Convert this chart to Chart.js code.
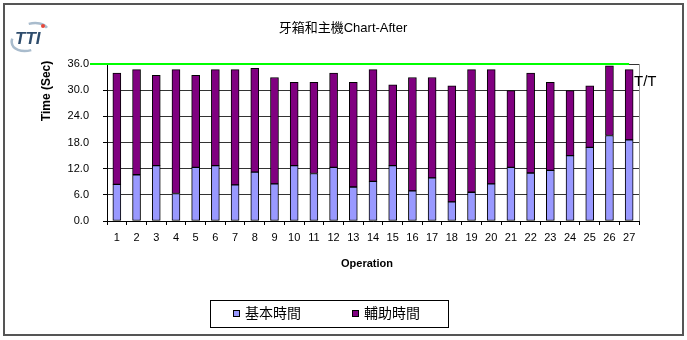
<!DOCTYPE html>
<html lang="zh-Hant">
<head>
  <meta charset="UTF-8">
  <title>牙箱和主機Chart-After</title>
  <style>
    body { margin: 0; background: #fff; }
    #wrap { width: 687px; height: 340px; position: relative; }
  </style>
</head>
<body>
  <div id="wrap"><canvas id="chart" width="687" height="340"></canvas></div>

  <script src="https://cdn.jsdelivr.net/npm/chart.js"></script>
  <script>
    const operations = ['1','2','3','4','5','6','7','8','9','10','11','12','13','14','15','16','17','18','19','20','21','22','23','24','25','26','27'];
    const baseTime = [8.4, 10.6, 12.7, 6.3, 12.3, 12.7, 8.3, 11.2, 8.5, 12.7, 10.9, 12.3, 7.8, 9.1, 12.7, 6.9, 9.9, 4.4, 6.6, 8.5, 12.3, 11.0, 11.6, 15.0, 16.9, 19.6, 18.6];
    const auxTime = [25.5, 24.1, 20.7, 28.4, 21.1, 22.0, 26.4, 23.8, 24.4, 19.1, 20.9, 21.6, 24.0, 25.6, 18.5, 26.0, 23.0, 26.6, 28.1, 26.2, 17.6, 22.9, 20.2, 14.9, 14.1, 16.0, 16.1];
    const taktTime = 36;
    const yTicks = [0, 6, 12, 18, 24, 30, 36];

    const latin = "Arial, 'Liberation Sans', sans-serif";
    const cjk = "Arial, 'Noto Sans CJK TC', 'Liberation Sans', sans-serif";

    // everything Excel draws outside the bars: frame, logo, titles, legend, T/T line
    const decor = {
      id: 'decor',
      beforeDraw(chart) {
        const c = chart.ctx;
        c.save();
        c.fillStyle = '#fff';
        c.fillRect(0, 0, chart.width, chart.height);
        c.strokeStyle = '#555';
        c.lineWidth = 2;
        c.strokeRect(4, 4, 679, 331);

        // logo
        c.strokeStyle = '#a9bccd';
        c.lineWidth = 2.5;
        c.beginPath();
        c.ellipse(30, 38, 19, 12, -0.35, 0.55 * Math.PI, 1.15 * Math.PI);
        c.stroke();
        c.beginPath();
        c.ellipse(30, 36, 19, 12, -0.35, 1.55 * Math.PI, 1.95 * Math.PI);
        c.stroke();
        c.fillStyle = '#2e4c6c';
        c.font = "italic bold 17px " + latin;
        c.textBaseline = 'alphabetic';
        c.fillText('TTI', 15, 44);
        c.fillStyle = '#e8483a';
        c.beginPath();
        c.arc(43, 26, 2, 0, 2 * Math.PI);
        c.fill();

        // title
        c.fillStyle = '#000';
        c.font = "13px " + cjk;
        c.textAlign = 'center';
        c.textBaseline = 'middle';
        c.fillText('牙箱和主機Chart-After', 343, 28);

        // axis titles
        c.font = "bold 11px " + latin;
        c.fillText('Operation', 367, 264);
        c.save();
        c.translate(47, 91);
        c.rotate(-Math.PI / 2);
        c.font = "bold 12px " + latin;
        c.fillText('Time (Sec)', 0, 0);
        c.restore();

        // legend
        c.strokeStyle = '#000';
        c.lineWidth = 1;
        c.strokeRect(210.5, 300.5, 238, 27);
        const items = [['基本時間', '#9999ff', 233], ['輔助時間', '#800080', 352]];
        c.font = "14px " + cjk;
        c.textAlign = 'left';
        items.forEach(([txt, col, x]) => {
          c.fillStyle = col;
          c.fillRect(x, 310, 6, 6);
          c.strokeRect(x + 0.5, 310.5, 6, 6);
          c.fillStyle = '#000';
          c.fillText(txt, x + 12, 314);
        });
        c.restore();
      },
      afterDatasetsDraw(chart) {
        const c = chart.ctx;
        const { x, y } = chart.scales;
        const area = chart.chartArea;
        c.save();
        c.strokeStyle = '#999';
        c.lineWidth = 1;
        c.beginPath();
        c.moveTo(area.right + 0.5, area.top);
        c.lineTo(area.right + 0.5, area.bottom);
        c.stroke();

        const yy = y.getPixelForValue(taktTime);
        c.strokeStyle = '#00ff00';
        c.lineWidth = 2;
        c.beginPath();
        c.moveTo(90, yy);
        c.lineTo(x.getPixelForValue(operations.length - 1), yy);
        c.stroke();

        c.fillStyle = '#000';
        c.font = "15px " + latin;
        c.textAlign = 'left';
        c.textBaseline = 'middle';
        c.fillText('T/T', area.right - 5, 82);
        c.restore();
      }
    };

    new Chart(document.getElementById('chart'), {
      type: 'bar',
      data: {
        labels: operations,
        datasets: [
          { label: '基本時間', data: baseTime, backgroundColor: '#9999ff', borderColor: '#000', borderWidth: 1 },
          { label: '輔助時間', data: auxTime, backgroundColor: '#800080', borderColor: '#000', borderWidth: 1 }
        ]
      },
      options: {
        responsive: false,
        animation: false,
        layout: { padding: { left: 0, right: 48, top: 64, bottom: 0 } },
        datasets: { bar: { barThickness: 8, borderSkipped: false } },
        plugins: { legend: { display: false }, title: { display: false }, tooltip: { enabled: false } },
        scales: {
          x: {
            stacked: true,
            afterFit: s => { s.height = 119; },
            border: { display: true, color: '#000', width: 1 },
            grid: { drawOnChartArea: false, drawTicks: true, tickLength: 4, tickColor: '#000', offset: true },
            ticks: { color: '#000', font: { family: latin, size: 11 }, padding: 6, maxRotation: 0, autoSkip: false }
          },
          y: {
            stacked: true,
            min: 0,
            max: 36,
            afterFit: s => { s.width = 107; },
            afterBuildTicks: s => { s.ticks = yTicks.map(v => ({ value: v })); },
            border: { display: true, color: '#000', width: 1 },
            grid: { color: '#333', tickColor: '#000', tickLength: 4 },
            ticks: { color: '#000', font: { family: latin, size: 11 }, padding: 14, callback: v => Number(v).toFixed(1) }
          }
        }
      },
      plugins: [decor]
    });
  </script>
</body>
</html>
